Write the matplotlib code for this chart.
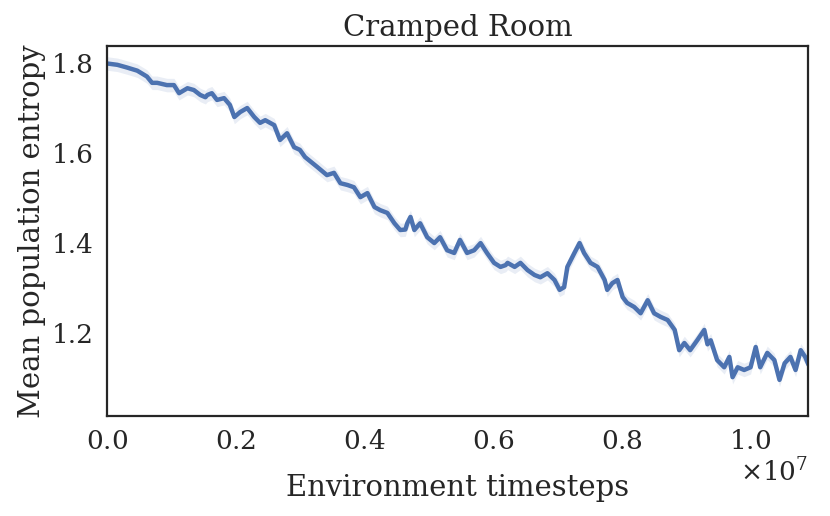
import matplotlib
matplotlib.use("Agg")
import matplotlib.pyplot as plt
import numpy as np
import seaborn as sns

# readings from the reference curve (timesteps in millions, entropy)
timesteps_m = [0.00, 0.16, 0.31, 0.47, 0.62, 0.70, 0.78, 0.93, 1.04, 1.12,
               1.25, 1.35, 1.45, 1.53, 1.56, 1.63, 1.71, 1.82, 1.91, 1.98,
               2.07, 2.18, 2.29, 2.38, 2.46, 2.60, 2.69, 2.80, 2.91, 3.00,
               3.08, 3.27, 3.42, 3.53, 3.63, 3.74, 3.84, 3.94, 4.05, 4.16,
               4.25, 4.36, 4.47, 4.56, 4.64, 4.67, 4.72, 4.78, 4.87, 4.98,
               5.09, 5.18, 5.29, 5.40, 5.49, 5.60, 5.71, 5.81, 5.91, 6.02,
               6.12, 6.20, 6.23, 6.34, 6.43, 6.54, 6.65, 6.74, 6.85, 6.96,
               7.04, 7.11, 7.16, 7.27, 7.35, 7.42, 7.52, 7.63, 7.74, 7.78,
               7.86, 7.94, 8.02, 8.09, 8.20, 8.30, 8.41, 8.51, 8.61, 8.72,
               8.83, 8.90, 8.98, 9.07, 9.18, 9.29, 9.34, 9.39, 9.49, 9.60,
               9.68, 9.73, 9.81, 9.91, 10.01, 10.09, 10.16, 10.27, 10.38, 10.46,
               10.54, 10.63, 10.71, 10.79, 10.86, 10.91]
entropy = [1.799, 1.796, 1.790, 1.783, 1.770, 1.756, 1.756, 1.751, 1.751, 1.733,
           1.744, 1.740, 1.729, 1.724, 1.729, 1.733, 1.718, 1.722, 1.707, 1.680,
           1.691, 1.700, 1.680, 1.667, 1.673, 1.662, 1.629, 1.644, 1.613, 1.607,
           1.591, 1.569, 1.551, 1.556, 1.533, 1.529, 1.524, 1.502, 1.511, 1.480,
           1.473, 1.467, 1.444, 1.429, 1.430, 1.444, 1.458, 1.429, 1.444, 1.413,
           1.400, 1.413, 1.384, 1.378, 1.407, 1.378, 1.384, 1.400, 1.378, 1.356,
           1.347, 1.351, 1.356, 1.347, 1.356, 1.340, 1.329, 1.324, 1.333, 1.318,
           1.296, 1.302, 1.347, 1.378, 1.400, 1.378, 1.356, 1.347, 1.318, 1.296,
           1.311, 1.318, 1.280, 1.267, 1.258, 1.244, 1.273, 1.244, 1.236, 1.229,
           1.207, 1.162, 1.178, 1.162, 1.184, 1.207, 1.175, 1.184, 1.140, 1.124,
           1.147, 1.102, 1.124, 1.118, 1.124, 1.169, 1.124, 1.156, 1.140, 1.096,
           1.133, 1.147, 1.118, 1.162, 1.147, 1.130]
ci_halfwidth = 0.015

sns.set_style("white")
plt.rcParams['font.family'] = ['DejaVu Serif']
plt.rcParams['mathtext.fontset'] = 'dejavuserif'

x = np.array(timesteps_m) * 1e6
y = np.array(entropy)

fig = plt.figure(figsize=(8.3, 5.16), dpi=100)
ax = fig.add_axes([0.129, 0.194, 0.845, 0.717])

ax.fill_between(x, y - ci_halfwidth, y + ci_halfwidth, color='#4c72b0', alpha=0.12, lw=0)
ax.plot(x, y, color='#4c72b0', lw=3.2)

ax.set_xlim(0, 1.091e7)
ax.set_ylim(1.016, 1.838)
ax.set_yticks([1.2, 1.4, 1.6, 1.8])
ax.ticklabel_format(axis='x', style='sci', scilimits=(0, 0), useMathText=True)
ax.tick_params(labelsize=19, colors='.15', pad=6)
ax.xaxis.get_offset_text().set_fontsize(19)
for s in ax.spines.values():
    s.set_color('.15')
    s.set_linewidth(1.6)

ax.set_xlabel('Environment timesteps', fontsize=21, color='.15', labelpad=14)
ax.set_ylabel('Mean population entropy', fontsize=21, color='.15', labelpad=4)
ax.set_title('Cramped Room', fontsize=21, color='.15', pad=7)

fig.savefig('out.png', dpi=100)
